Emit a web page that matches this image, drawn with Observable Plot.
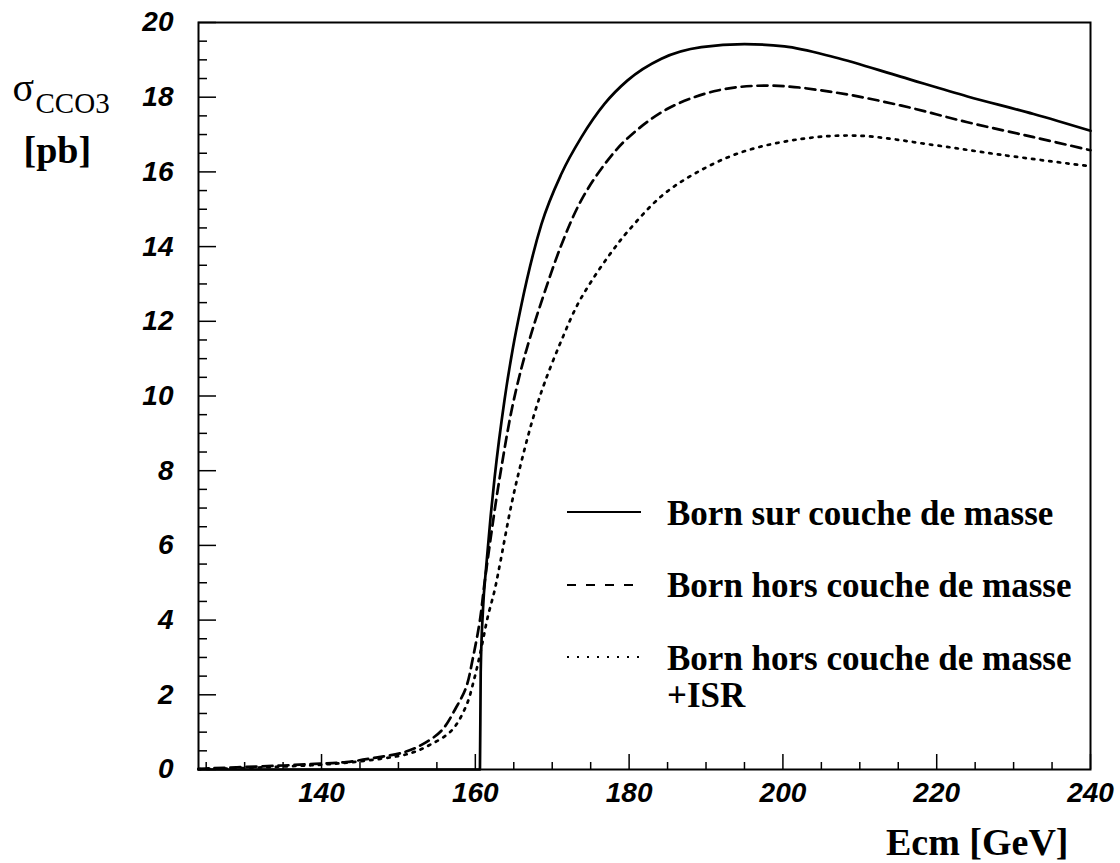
<!DOCTYPE html>
<html>
<head>
<meta charset="utf-8">
<script src="https://cdn.jsdelivr.net/npm/d3@7"></script>
<script src="https://cdn.jsdelivr.net/npm/@observablehq/plot@0.6"></script>
<style>
  body { margin: 0; background: #fff; }
  #wrap { position: relative; width: 1120px; height: 863px; }
  #legend { position: absolute; left: 0; top: 0; pointer-events: none; }
</style>
</head>
<body>
<div id="wrap"></div>
<script>
// ---- Data ----
const seriesNames = [
  "Born sur couche de masse",
  "Born hors couche de masse",
  "Born hors couche de masse +ISR"
];

// Born on-shell
const bornOnEnergy = [124, 160.6, 160.7, 161.0, 161.4, 162.0, 162.5, 163.8, 164.9, 165.9, 168.6, 171.2, 173.8, 176.8, 179.8, 184.2, 189.4, 195.0, 200.2, 206.7, 215.3, 224.0, 232.6, 240];
const bornOnSigma  = [0, 0, 2.6, 4.3, 5.4, 6.8, 7.8, 9.9, 11.3, 12.35, 14.6, 15.95, 16.93, 17.82, 18.45, 19.03, 19.34, 19.42, 19.36, 19.07, 18.55, 18.02, 17.55, 17.1];

// Born off-shell
const bornOffEnergy = [124, 125.5, 129, 134.2, 139.1, 143.2, 147.1, 150.7, 153, 155.6, 157.5, 158.8, 159.7, 160.6, 161.2, 162.0, 162.7, 163.4, 164.7, 166.0, 167.1, 168.4, 171.2, 173.8, 176.8, 179.8, 185, 191.5, 198.4, 206.7, 215.3, 224, 232.6, 240];
const bornOffSigma  = [0.02, 0.03, 0.06, 0.1, 0.15, 0.2, 0.32, 0.46, 0.66, 1.04, 1.66, 2.2, 3.0, 4.0, 5.0, 6.2, 7.2, 8.1, 9.6, 10.75, 11.55, 12.4, 14.05, 15.25, 16.2, 16.9, 17.69, 18.18, 18.31, 18.13, 17.78, 17.33, 16.93, 16.58];

// Born off-shell + ISR
const isrEnergy = [124, 130, 135, 140, 145, 151.3, 154, 156.9, 158.8, 159.9, 160.8, 161.6, 162.5, 163.2, 164.7, 166.0, 167.5, 169.0, 171.2, 173.3, 175.5, 177.7, 179.8, 184.2, 188.5, 194.5, 202.3, 209.7, 219.6, 228.3, 240];
const isrSigma  = [0.01, 0.04, 0.08, 0.13, 0.22, 0.42, 0.65, 1.04, 1.7, 2.46, 3.27, 4.07, 4.79, 5.5, 7.1, 8.25, 9.4, 10.35, 11.49, 12.45, 13.2, 13.85, 14.4, 15.35, 15.95, 16.52, 16.88, 16.97, 16.72, 16.46, 16.15];

const xTicksMajor = [140, 160, 180, 200, 220, 240];
const xTicksMinor = [125, 130, 135, 145, 150, 155, 165, 170, 175, 185, 190, 195, 205, 210, 215, 225, 230, 235];
const yTicksMajor = [0, 2, 4, 6, 8, 10, 12, 14, 16, 18, 20];
const yTicksMinor = d3.range(0, 20.001, 0.5).filter(v => v % 2 !== 0);

// ---- Build tables ----
const toRows = (E, S, name) => E.map((e, i) => ({E: e, sigma: S[i], series: name}));
const rowsOn  = toRows(bornOnEnergy, bornOnSigma, seriesNames[0]);
const rowsOff = toRows(bornOffEnergy, bornOffSigma, seriesNames[1]);
const rowsIsr = toRows(isrEnergy, isrSigma, seriesNames[2]);

const W = 1120, H = 863, ml = 198, mr = 30, mt = 22, mb = 94;
const innerW = W - ml - mr, innerH = H - mt - mb;

const serif = "Liberation Serif, Times New Roman, serif";

const chart = Plot.plot({
  width: W, height: H,
  marginLeft: ml, marginRight: mr, marginTop: mt, marginBottom: mb,
  x: {domain: [124, 240], label: null},
  y: {domain: [0, 20], label: null},
  style: {
    fontFamily: "Liberation Sans, Arial, sans-serif",
    fontSize: "28px", fontWeight: "bold", fontStyle: "italic",
    color: "#000", background: "#fff"
  },
  marks: [
    Plot.tickY(yTicksMinor, {y: d => d, insetRight: innerW - 9, stroke: "#000", strokeWidth: 1.5}),
    Plot.tickY(yTicksMajor, {y: d => d, insetRight: innerW - 18, stroke: "#000", strokeWidth: 1.5}),
    Plot.tickX(xTicksMinor, {x: d => d, insetTop: innerH - 7, stroke: "#000", strokeWidth: 1.5}),
    Plot.tickX(xTicksMajor, {x: d => d, insetTop: innerH - 15, stroke: "#000", strokeWidth: 1.5}),
    Plot.axisY({ticks: yTicksMajor, tickSize: 0, tickPadding: 25, tickFormat: d => String(d), label: null}),
    Plot.axisX({ticks: xTicksMajor, tickSize: 0, tickPadding: 13, tickFormat: d => String(d), label: null}),
    Plot.line(rowsIsr, {x: "E", y: "sigma", stroke: "#000", strokeWidth: 2.7, strokeDasharray: "2.4,6.2", curve: "catmull-rom"}),
    Plot.line(rowsOff, {x: "E", y: "sigma", stroke: "#000", strokeWidth: 2.7, strokeDasharray: "10,6", curve: "catmull-rom"}),
    Plot.line(rowsOn,  {x: "E", y: "sigma", stroke: "#000", strokeWidth: 2.7, curve: "monotone-x"}),
    Plot.frame({stroke: "#000", strokeWidth: 2}),
    // axis titles
    Plot.text(["Ecm [GeV]"], {frameAnchor: "bottom-right", textAnchor: "end", lineAnchor: "bottom",
      dx: -22, dy: 85, fontFamily: serif, fontSize: 38, fontWeight: "bold", fontStyle: "normal"}),
    Plot.text(["σ"], {frameAnchor: "top-left", textAnchor: "start", lineAnchor: "bottom",
      dx: -186, dy: 78, fontFamily: serif, fontSize: 40, fontWeight: "normal", fontStyle: "normal"}),
    Plot.text(["CCO3"], {frameAnchor: "top-left", textAnchor: "start", lineAnchor: "bottom",
      dx: -163, dy: 90, fontFamily: serif, fontSize: 29, fontWeight: "normal", fontStyle: "normal"}),
    Plot.text(["[pb]"], {frameAnchor: "top-left", textAnchor: "start", lineAnchor: "bottom",
      dx: -175, dy: 140, fontFamily: serif, fontSize: 38, fontWeight: "bold", fontStyle: "normal"})
  ]
});

const wrap = document.getElementById("wrap");
wrap.appendChild(chart);

// ---- Legend overlay ----
const legendRows = [
  {label: [seriesNames[0]], dash: null, lineY: 512, textY: 525},
  {label: ["Born hors couche de masse"], dash: "9,10", lineY: 585, textY: 597},
  {label: ["Born hors couche de masse", "+ISR"], dash: "2,8", lineY: 657, textY: 670}
];
const lg = d3.create("svg").attr("id", "legend").attr("width", W).attr("height", H);
legendRows.forEach(r => {
  const ln = lg.append("line").attr("x1", 567).attr("x2", 641)
    .attr("y1", r.lineY).attr("y2", r.lineY)
    .attr("stroke", "#000").attr("stroke-width", 2);
  if (r.dash) ln.attr("stroke-dasharray", r.dash);
  r.label.forEach((t, i) => {
    lg.append("text").attr("x", 667).attr("y", r.textY + i * 37)
      .attr("font-family", serif).attr("font-size", 35).attr("font-weight", "bold")
      .attr("fill", "#000").text(t);
  });
});
wrap.appendChild(lg.node());
</script>
</body>
</html>
